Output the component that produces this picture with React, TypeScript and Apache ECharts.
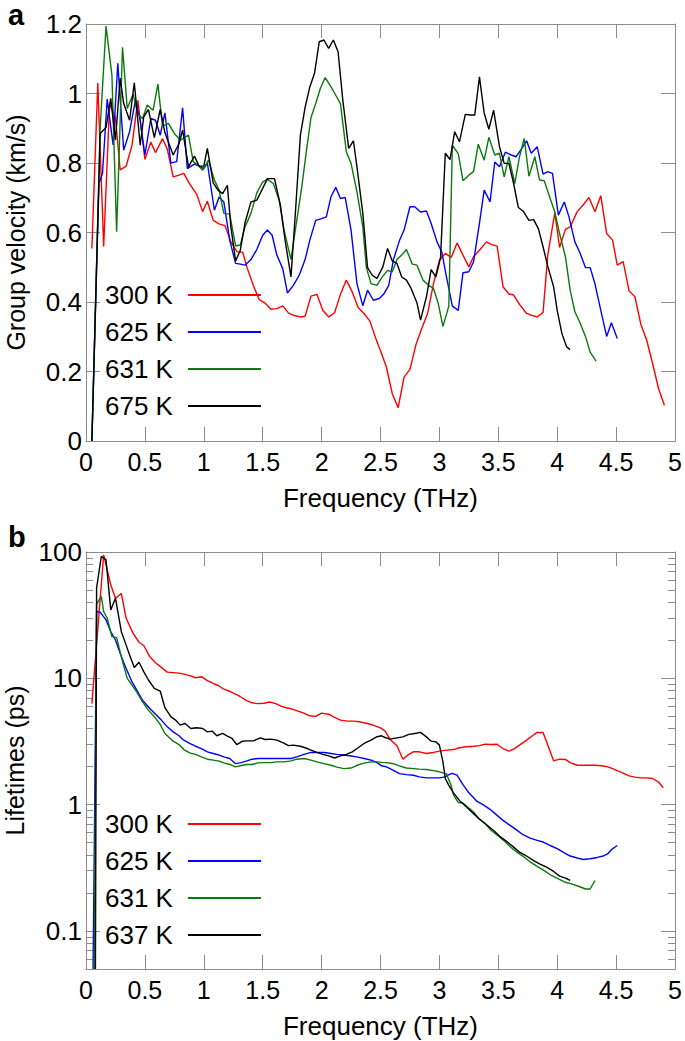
import { useEffect, useRef } from "react";
import * as echarts from "echarts";

const FONT = "'Liberation Sans', Arial, Helvetica, sans-serif";
const AXIS_GRAY = "#8c8c8c";

const topLegendNames = ["300 K", "625 K", "631 K", "675 K"];
const bottomLegendNames = ["300 K", "625 K", "631 K", "637 K"];
const seriesColors = ["#ff0000", "#0000ff", "#0a7a0a", "#000000"];
const lifetimeTickLabels = [0.1, 1, 10, 100];

// Panel a: group velocity (km/s) vs frequency (THz)
const velocity300 = [[0.05,0.554],[0.10,1.03],[0.15,0.56],[0.20,0.97],[0.25,0.93],[0.29,0.78],[0.34,0.79],[0.39,0.85],[0.44,0.98],[0.50,0.81],[0.55,0.86],[0.59,0.83],[0.65,0.87],[0.69,0.84],[0.74,0.76],[0.79,0.765],[0.83,0.77],[0.88,0.74],[0.94,0.71],[0.99,0.66],[1.03,0.69],[1.08,0.635],[1.13,0.625],[1.18,0.62],[1.23,0.573],[1.28,0.545],[1.33,0.543],[1.37,0.496],[1.42,0.448],[1.47,0.407],[1.52,0.397],[1.57,0.379],[1.62,0.381],[1.67,0.389],[1.72,0.368],[1.76,0.362],[1.82,0.357],[1.86,0.359],[1.91,0.417],[1.96,0.422],[2.01,0.376],[2.06,0.357],[2.11,0.369],[2.16,0.422],[2.21,0.463],[2.26,0.429],[2.31,0.384],[2.36,0.367],[2.41,0.345],[2.46,0.295],[2.50,0.26],[2.55,0.213],[2.60,0.136],[2.65,0.096],[2.70,0.184],[2.75,0.206],[2.80,0.276],[2.85,0.324],[2.90,0.367],[2.95,0.453],[3.00,0.52],[3.05,0.54],[3.10,0.528],[3.15,0.57],[3.20,0.535],[3.25,0.501],[3.29,0.53],[3.34,0.549],[3.40,0.573],[3.44,0.566],[3.49,0.561],[3.54,0.444],[3.59,0.423],[3.63,0.42],[3.68,0.393],[3.74,0.367],[3.78,0.362],[3.83,0.357],[3.88,0.37],[3.92,0.535],[3.98,0.657],[4.02,0.557],[4.07,0.609],[4.11,0.616],[4.17,0.66],[4.22,0.679],[4.27,0.701],[4.32,0.66],[4.37,0.706],[4.42,0.597],[4.47,0.578],[4.51,0.506],[4.56,0.516],[4.61,0.432],[4.66,0.415],[4.71,0.336],[4.76,0.29],[4.81,0.223],[4.86,0.151],[4.91,0.103]];
const velocity625 = [[0.05,0],[0.11,0.741],[0.14,0.77],[0.18,0.984],[0.23,0.852],[0.27,1.087],[0.32,0.837],[0.37,0.89],[0.42,0.981],[0.46,0.923],[0.50,0.823],[0.55,0.928],[0.59,0.923],[0.63,0.88],[0.67,0.944],[0.72,0.80],[0.77,0.804],[0.82,0.959],[0.86,0.784],[0.92,0.797],[0.96,0.791],[1.00,0.784],[1.03,0.80],[1.09,0.664],[1.13,0.702],[1.17,0.688],[1.22,0.578],[1.27,0.511],[1.31,0.509],[1.35,0.506],[1.40,0.522],[1.45,0.551],[1.50,0.592],[1.54,0.607],[1.58,0.592],[1.62,0.535],[1.67,0.496],[1.71,0.426],[1.76,0.448],[1.81,0.477],[1.86,0.522],[1.90,0.578],[1.95,0.635],[2.00,0.64],[2.04,0.645],[2.08,0.703],[2.12,0.73],[2.16,0.698],[2.20,0.701],[2.25,0.607],[2.30,0.453],[2.35,0.389],[2.39,0.434],[2.44,0.405],[2.49,0.41],[2.53,0.424],[2.57,0.448],[2.61,0.522],[2.66,0.576],[2.70,0.607],[2.75,0.674],[2.79,0.674],[2.84,0.659],[2.89,0.662],[2.93,0.626],[2.98,0.573],[3.02,0.544],[3.06,0.472],[3.11,0.388],[3.16,0.376],[3.20,0.484],[3.25,0.487],[3.29,0.516],[3.34,0.626],[3.38,0.722],[3.43,0.688],[3.47,0.803],[3.51,0.789],[3.56,0.831],[3.61,0.823],[3.65,0.818],[3.69,0.837],[3.74,0.864],[3.78,0.828],[3.83,0.847],[3.88,0.768],[3.92,0.775],[3.96,0.77],[4.01,0.65],[4.06,0.688],[4.10,0.645],[4.15,0.573],[4.19,0.544],[4.24,0.499],[4.28,0.499],[4.32,0.453],[4.37,0.376],[4.42,0.301],[4.46,0.34],[4.51,0.295]];
const velocity631 = [[0.05,0],[0.12,0.9],[0.17,1.194],[0.22,1.053],[0.26,0.602],[0.31,1.133],[0.35,0.957],[0.40,0.998],[0.44,0.941],[0.48,0.928],[0.52,0.967],[0.57,0.952],[0.61,1.027],[0.65,0.906],[0.70,0.914],[0.75,0.885],[0.80,0.866],[0.87,0.88],[0.91,0.804],[0.95,0.794],[0.99,0.779],[1.04,0.808],[1.09,0.751],[1.13,0.722],[1.17,0.655],[1.22,0.653],[1.27,0.561],[1.31,0.564],[1.35,0.616],[1.40,0.655],[1.45,0.714],[1.50,0.746],[1.54,0.753],[1.59,0.741],[1.64,0.693],[1.68,0.609],[1.74,0.522],[1.78,0.614],[1.83,0.727],[1.87,0.832],[1.91,0.931],[1.95,0.971],[1.99,1.015],[2.03,1.046],[2.08,1.019],[2.12,0.995],[2.16,0.971],[2.21,0.832],[2.25,0.799],[2.30,0.717],[2.35,0.616],[2.38,0.499],[2.42,0.453],[2.47,0.448],[2.51,0.47],[2.56,0.491],[2.60,0.487],[2.64,0.522],[2.68,0.535],[2.72,0.551],[2.77,0.509],[2.81,0.506],[2.86,0.463],[2.91,0.448],[2.95,0.439],[2.99,0.396],[3.03,0.33],[3.08,0.388],[3.11,0.851],[3.16,0.827],[3.20,0.749],[3.25,0.765],[3.29,0.775],[3.33,0.854],[3.38,0.808],[3.42,0.874],[3.47,0.823],[3.51,0.828],[3.55,0.76],[3.59,0.818],[3.64,0.741],[3.68,0.818],[3.72,0.871],[3.76,0.762],[3.81,0.818],[3.85,0.751],[3.89,0.749],[3.94,0.698],[3.98,0.659],[4.02,0.597],[4.07,0.53],[4.11,0.434],[4.15,0.372],[4.19,0.343],[4.24,0.301],[4.28,0.256],[4.33,0.23]];
const velocity675 = [[0.05,0],[0.12,0.885],[0.17,0.902],[0.21,0.986],[0.25,0.866],[0.29,1.044],[0.32,0.971],[0.37,0.923],[0.41,1.031],[0.46,0.851],[0.49,0.933],[0.53,0.954],[0.58,0.873],[0.63,0.954],[0.67,0.887],[0.74,0.823],[0.79,0.856],[0.82,0.895],[0.87,0.789],[0.92,0.82],[0.96,0.791],[1.00,0.791],[1.03,0.842],[1.08,0.743],[1.12,0.722],[1.16,0.712],[1.20,0.736],[1.23,0.616],[1.27,0.518],[1.31,0.549],[1.35,0.628],[1.40,0.688],[1.45,0.693],[1.50,0.727],[1.54,0.755],[1.60,0.755],[1.65,0.679],[1.69,0.578],[1.74,0.472],[1.78,0.67],[1.82,0.88],[1.86,0.96],[1.90,1.019],[1.94,1.058],[1.98,1.149],[2.02,1.154],[2.06,1.13],[2.10,1.154],[2.14,1.12],[2.18,0.981],[2.23,0.842],[2.27,0.864],[2.30,0.789],[2.35,0.655],[2.39,0.499],[2.43,0.477],[2.47,0.468],[2.52,0.501],[2.56,0.554],[2.60,0.518],[2.64,0.511],[2.68,0.472],[2.72,0.463],[2.76,0.439],[2.81,0.397],[2.84,0.348],[2.89,0.415],[2.93,0.493],[2.97,0.472],[3.01,0.528],[3.05,0.828],[3.09,0.81],[3.13,0.89],[3.17,0.861],[3.22,0.94],[3.26,0.938],[3.30,0.938],[3.34,1.048],[3.38,0.944],[3.42,0.897],[3.46,0.952],[3.51,0.847],[3.55,0.799],[3.59,0.799],[3.63,0.741],[3.67,0.672],[3.71,0.662],[3.76,0.635],[3.80,0.637],[3.84,0.611],[3.88,0.559],[3.92,0.503],[3.97,0.443],[4.00,0.376],[4.04,0.309],[4.08,0.271],[4.11,0.263]];

// Panel b: phonon lifetimes (ps) vs frequency (THz)
const lifetime300 = [[0.05,6.3],[0.15,95],[0.21,55],[0.25,43],[0.30,47],[0.34,30],[0.40,22.7],[0.45,19.3],[0.49,18.2],[0.54,14.9],[0.59,13.3],[0.64,12.2],[0.69,11.2],[0.74,11.1],[0.79,11.0],[0.83,10.8],[0.88,10.5],[0.93,10.1],[0.98,10.3],[1.03,9.6],[1.08,9.1],[1.13,8.7],[1.17,8.2],[1.22,7.9],[1.27,7.5],[1.31,7.15],[1.36,6.7],[1.41,6.4],[1.46,6.3],[1.51,6.35],[1.56,6.5],[1.61,6.3],[1.66,6.0],[1.70,5.85],[1.75,5.7],[1.80,5.5],[1.85,5.3],[1.90,5.05],[1.95,5.0],[2.00,5.3],[2.06,5.2],[2.11,4.9],[2.16,4.67],[2.22,4.58],[2.27,4.58],[2.32,4.53],[2.36,4.45],[2.42,4.31],[2.46,4.19],[2.50,4.05],[2.54,3.82],[2.58,3.3],[2.64,2.93],[2.69,2.29],[2.74,2.5],[2.78,2.62],[2.83,2.62],[2.89,2.54],[2.95,2.59],[3.00,2.65],[3.06,2.7],[3.12,2.73],[3.17,2.82],[3.23,2.87],[3.29,2.9],[3.34,2.93],[3.39,3.01],[3.44,2.99],[3.49,3.01],[3.54,2.78],[3.59,2.65],[3.63,2.75],[3.68,2.96],[3.74,3.24],[3.79,3.51],[3.83,3.73],[3.88,3.73],[3.92,2.96],[3.97,2.22],[4.02,2.29],[4.07,2.28],[4.11,2.15],[4.17,2.05],[4.22,2.05],[4.27,2.05],[4.32,2.05],[4.38,2.03],[4.43,1.99],[4.47,1.93],[4.52,1.84],[4.57,1.76],[4.61,1.69],[4.66,1.65],[4.71,1.63],[4.76,1.63],[4.81,1.61],[4.86,1.51],[4.90,1.36]];
const lifetime625 = [[0.06,0.05],[0.09,33.8],[0.12,33.4],[0.17,29],[0.21,23.4],[0.25,20.1],[0.30,14.9],[0.34,12.0],[0.39,9.4],[0.43,8.1],[0.48,6.7],[0.54,5.8],[0.59,5.2],[0.64,4.67],[0.69,4.13],[0.74,3.77],[0.79,3.51],[0.83,3.24],[0.88,3.05],[0.93,2.9],[0.98,2.78],[1.03,2.62],[1.08,2.54],[1.13,2.47],[1.17,2.39],[1.22,2.32],[1.27,2.11],[1.31,2.14],[1.36,2.21],[1.41,2.29],[1.46,2.32],[1.51,2.32],[1.57,2.32],[1.62,2.32],[1.68,2.32],[1.74,2.32],[1.79,2.39],[1.85,2.5],[1.91,2.59],[1.96,2.59],[2.02,2.59],[2.08,2.54],[2.13,2.5],[2.19,2.47],[2.25,2.43],[2.30,2.39],[2.36,2.32],[2.42,2.25],[2.47,2.15],[2.51,2.03],[2.55,1.99],[2.61,1.87],[2.66,1.76],[2.72,1.73],[2.78,1.71],[2.83,1.66],[2.89,1.63],[2.95,1.63],[3.00,1.63],[3.05,1.66],[3.08,1.73],[3.11,1.77],[3.15,1.71],[3.20,1.44],[3.25,1.24],[3.32,1.06],[3.37,1.0],[3.43,0.918],[3.49,0.822],[3.54,0.751],[3.60,0.686],[3.66,0.625],[3.71,0.578],[3.77,0.543],[3.83,0.521],[3.88,0.506],[3.94,0.475],[4.00,0.448],[4.05,0.421],[4.11,0.392],[4.17,0.378],[4.22,0.368],[4.28,0.373],[4.34,0.382],[4.39,0.392],[4.43,0.409],[4.46,0.44],[4.51,0.475]];
const lifetime631 = [[0.07,0.05],[0.09,38.6],[0.13,44.5],[0.15,33.8],[0.18,29.9],[0.22,21.4],[0.26,21.0],[0.31,13.6],[0.35,10.0],[0.39,8.85],[0.43,7.8],[0.48,6.5],[0.53,5.6],[0.58,4.97],[0.63,4.31],[0.67,3.66],[0.74,3.18],[0.79,2.99],[0.83,2.73],[0.88,2.57],[0.93,2.5],[0.98,2.39],[1.03,2.29],[1.08,2.25],[1.13,2.21],[1.17,2.14],[1.22,2.08],[1.27,1.99],[1.31,2.03],[1.36,2.08],[1.41,2.08],[1.46,2.14],[1.51,2.15],[1.57,2.15],[1.62,2.18],[1.68,2.18],[1.74,2.22],[1.79,2.29],[1.85,2.32],[1.91,2.25],[1.96,2.18],[2.02,2.11],[2.08,2.05],[2.13,1.98],[2.19,1.93],[2.25,1.95],[2.30,2.05],[2.36,2.13],[2.42,2.18],[2.47,2.18],[2.51,2.16],[2.55,2.15],[2.61,2.11],[2.66,2.03],[2.72,1.95],[2.78,1.93],[2.83,1.91],[2.89,1.9],[2.95,1.86],[3.00,1.82],[3.06,1.75],[3.10,1.42],[3.12,1.19],[3.16,1.04],[3.20,1.03],[3.25,0.94],[3.29,0.875],[3.33,0.784],[3.39,0.707],[3.44,0.625],[3.50,0.564],[3.56,0.506],[3.61,0.456],[3.67,0.413],[3.73,0.378],[3.78,0.347],[3.84,0.32],[3.90,0.296],[3.95,0.275],[4.01,0.259],[4.07,0.243],[4.12,0.236],[4.18,0.226],[4.24,0.215],[4.28,0.215],[4.32,0.251]];
const lifetime637 = [[0.08,0.05],[0.09,52],[0.13,92.4],[0.14,90.7],[0.17,86.9],[0.21,34.8],[0.25,43.1],[0.30,23.4],[0.34,18.4],[0.37,15.3],[0.41,12.2],[0.45,13.4],[0.49,11.3],[0.53,9.7],[0.58,8.34],[0.63,7.93],[0.67,5.85],[0.72,4.97],[0.76,4.67],[0.80,4.26],[0.84,4.39],[0.89,4.01],[0.94,4.06],[0.99,4.01],[1.03,3.77],[1.07,3.82],[1.11,3.51],[1.16,3.66],[1.20,3.49],[1.24,3.34],[1.28,2.99],[1.33,3.18],[1.37,3.2],[1.42,3.2],[1.48,3.38],[1.52,3.28],[1.57,3.3],[1.62,3.24],[1.67,3.1],[1.72,2.93],[1.76,2.96],[1.82,2.9],[1.86,2.82],[1.91,2.7],[1.96,2.59],[2.01,2.5],[2.06,2.43],[2.11,2.34],[2.16,2.43],[2.21,2.5],[2.26,2.62],[2.31,2.82],[2.36,3.05],[2.42,3.24],[2.47,3.45],[2.51,3.51],[2.54,3.4],[2.58,3.3],[2.64,3.38],[2.69,3.44],[2.74,3.6],[2.79,3.66],[2.84,3.73],[2.89,3.44],[2.93,3.18],[2.97,3.14],[3.00,2.96],[3.03,2.18],[3.05,1.61],[3.08,1.42],[3.12,1.24],[3.17,1.08],[3.23,0.957],[3.29,0.849],[3.34,0.766],[3.40,0.694],[3.46,0.625],[3.51,0.564],[3.57,0.512],[3.63,0.461],[3.68,0.421],[3.74,0.392],[3.80,0.361],[3.85,0.34],[3.91,0.32],[3.97,0.296],[4.02,0.272],[4.07,0.262],[4.11,0.251]];

const velocitySeries = [velocity300, velocity625, velocity631, velocity675];
const lifetimeSeries = [lifetime300, lifetime625, lifetime631, lifetime637];

const GRID_LEFT = 86;
const GRID_RIGHT = 10;
const TICK_LEN = 14;
const X_LABEL_SIZE = 25;
const Y_LABEL_SIZE = 26;
const TITLE_SIZE = 26;
const Y_TITLE_SIZE = 25;

function freqAxis(gridIndex: number, position: "top" | "bottom", withLabels: boolean) {
  return {
    type: "value",
    gridIndex,
    position,
    min: 0,
    max: 5,
    interval: 0.5,
    axisLine: { show: true, onZero: false, lineStyle: { color: AXIS_GRAY, width: 1 } },
    axisTick: { show: true, inside: true, length: TICK_LEN, lineStyle: { color: AXIS_GRAY, width: 1 } },
    axisLabel: { show: withLabels, fontSize: X_LABEL_SIZE, color: "#000", fontFamily: FONT, margin: 8 },
    splitLine: { show: false },
    name: withLabels ? "Frequency (THz)" : "",
    nameLocation: "middle",
    nameGap: 44,
    nameTextStyle: { fontSize: TITLE_SIZE, color: "#000", fontFamily: FONT },
  };
}

function velocityAxis(position: "left" | "right", withLabels: boolean) {
  return {
    type: "value",
    gridIndex: 0,
    position,
    min: 0,
    max: 1.2,
    interval: 0.2,
    axisLine: { show: true, onZero: false, lineStyle: { color: AXIS_GRAY, width: 1 } },
    axisTick: { show: true, inside: true, length: TICK_LEN, lineStyle: { color: AXIS_GRAY, width: 1 } },
    axisLabel: { show: withLabels, fontSize: Y_LABEL_SIZE, color: "#000", fontFamily: FONT, margin: 4 },
    splitLine: { show: false },
    name: withLabels ? "Group velocity (km/s)" : "",
    nameLocation: "middle",
    nameGap: 58,
    nameTextStyle: { fontSize: Y_TITLE_SIZE, lineHeight: 25, color: "#000", fontFamily: FONT },
  };
}

function lifetimeAxis(position: "left" | "right", withLabels: boolean) {
  return {
    type: "log",
    logBase: 10,
    gridIndex: 1,
    position,
    min: 0.05,
    max: 100,
    axisLine: { show: true, onZero: false, lineStyle: { color: AXIS_GRAY, width: 1 } },
    axisTick: { show: true, inside: true, length: TICK_LEN, lineStyle: { color: AXIS_GRAY, width: 1 } },
    minorTick: { show: true, splitNumber: 9, length: 7, lineStyle: { color: AXIS_GRAY, width: 1 } },
    axisLabel: {
      show: withLabels,
      fontSize: Y_LABEL_SIZE,
      color: "#000",
      fontFamily: FONT,
      margin: 4,
      formatter: (v: number) => {
        const hit = lifetimeTickLabels.find((t) => Math.abs(t - v) / t < 1e-6);
        return hit !== undefined ? String(hit) : "";
      },
    },
    splitLine: { show: false },
    minorSplitLine: { show: false },
    name: withLabels ? "Lifetimes (ps)" : "",
    nameLocation: "middle",
    nameGap: 58,
    nameTextStyle: { fontSize: Y_TITLE_SIZE, lineHeight: 25, color: "#000", fontFamily: FONT },
  };
}

function legendFor(names: string[], top: number) {
  return {
    data: names,
    orient: "vertical",
    align: "right",
    left: 105,
    top,
    padding: 0,
    itemWidth: 73,
    itemHeight: 14,
    itemGap: 7,
    selectedMode: false,
    itemStyle: { opacity: 0 },
    textStyle: { fontSize: 26, color: "#000", fontFamily: FONT, lineHeight: 30, padding: [0, 10, 0, 0] },
  };
}

export default function App() {
  const ref = useRef<HTMLDivElement>(null);
  useEffect(() => {
    const chart = echarts.init(ref.current!, null, { renderer: "svg" });
    const series: any[] = [];
    velocitySeries.forEach((data, i) => {
      series.push({
        type: "line",
        name: topLegendNames[i],
        data,
        xAxisIndex: 0,
        yAxisIndex: 0,
        symbol: "none",
        showSymbol: false,
        lineStyle: { color: seriesColors[i], width: 1.4 },
        itemStyle: { color: seriesColors[i] },
      });
    });
    lifetimeSeries.forEach((data, i) => {
      series.push({
        type: "line",
        name: bottomLegendNames[i],
        data,
        xAxisIndex: 2,
        yAxisIndex: 2,
        symbol: "none",
        showSymbol: false,
        lineStyle: { color: seriesColors[i], width: 1.4 },
        itemStyle: { color: seriesColors[i] },
      });
    });
    chart.setOption({
      animation: false,
      backgroundColor: "#ffffff",
      textStyle: { fontFamily: FONT },
      grid: [
        { left: GRID_LEFT, right: GRID_RIGHT, top: 24, height: 417, outerBoundsMode: "none", containLabel: false },
        { left: GRID_LEFT, right: GRID_RIGHT, top: 552, height: 417, outerBoundsMode: "none", containLabel: false },
      ],
      xAxis: [freqAxis(0, "bottom", true), freqAxis(0, "top", false), freqAxis(1, "bottom", true), freqAxis(1, "top", false)],
      yAxis: [velocityAxis("left", true), velocityAxis("right", false), lifetimeAxis("left", true), lifetimeAxis("right", false)],
      legend: [legendFor(topLegendNames, 280), legendFor(bottomLegendNames, 809)],
      graphic: [
        { type: "text", left: 8, top: 0, style: { text: "a", fontSize: 29, fontWeight: "bold", fill: "#000", fontFamily: FONT } },
        { type: "text", left: 8, top: 522, style: { text: "b", fontSize: 29, fontWeight: "bold", fill: "#000", fontFamily: FONT } },
      ],
      series,
    });
    return () => chart.dispose();
  }, []);
  return <div ref={ref} style={{ position: "absolute", left: 0, top: 0, width: 685, height: 1041 }} />;
}
